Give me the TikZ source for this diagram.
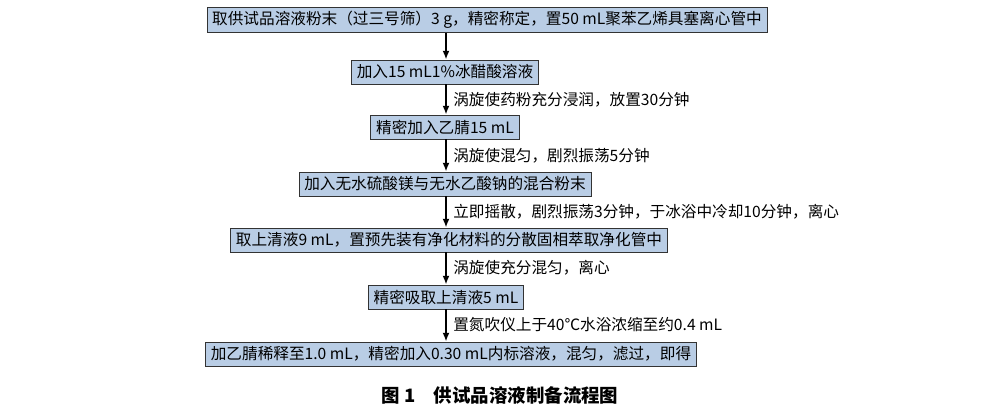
\documentclass[tikz,border=0pt]{standalone}
\usepackage{fontspec}
\setmainfont{Noto Sans CJK SC}
\usetikzlibrary{arrows.meta}
\definecolor{boxblue}{RGB}{185,205,229}

\begin{document}
\begin{tikzpicture}[x=0.02cm,y=-0.02cm,font=\fontsize{8.9}{10}\selectfont]
\tikzset{stepbox/.style = {draw=black!80, fill=boxblue, inner xsep=3pt, inner ysep=2pt, minimum height=0.48cm, line width=.5pt}}
\tikzset{edge/.style = {-{Latex[length=5pt,width=4pt]}, line width=1.2pt}}
\tikzset{note/.style = {anchor=west, inner sep=0pt}}

   \useasboundingbox (0,0) rectangle (1000,418);

   \node[stepbox] (s1) at (487,20) {取供试品溶液粉末（过三号筛）3 g，精密称定，置50 mL聚苯乙烯具塞离心管中};
   \node[stepbox] (s2) at (445,72) {加入15 mL1\%冰醋酸溶液};
   \node[stepbox] (s3) at (445,127) {精密加入乙腈15 mL};
   \node[stepbox] (s4) at (445,184) {加入无水硫酸镁与无水乙酸钠的混合粉末};
   \node[stepbox] (s5) at (449,240) {取上清液9 mL，置预先装有净化材料的分散固相萃取净化管中};
   \node[stepbox] (s6) at (446,297) {精密吸取上清液5 mL};
   \node[stepbox] (s7) at (451,354) {加乙腈稀释至1.0 mL，精密加入0.30 mL内标溶液，混匀，滤过，即得};

   \draw[edge] (s1.south -| 446,0) -- (s2.north -| 446,0);
   \draw[edge] (s2.south -| 446,0) -- (s3.north -| 446,0);
   \draw[edge] (s3.south -| 446,0) -- (s4.north -| 446,0);
   \draw[edge] (s4.south -| 446,0) -- (s5.north -| 446,0);
   \draw[edge] (s5.south -| 446,0) -- (s6.north -| 446,0);
   \draw[edge] (s6.south -| 446,0) -- (s7.north -| 446,0);

   \node[note] (n2) at (453,100) {涡旋使药粉充分浸润，放置30分钟};
   \node[note] (n3) at (453,156) {涡旋使混匀，剧烈振荡5分钟};
   \node[note] (n4) at (453,212) {立即摇散，剧烈振荡3分钟，于冰浴中冷却10分钟，离心};
   \node[note] (n5) at (453,268) {涡旋使充分混匀，离心};
   \node[note] (n6) at (453,325) {置氮吹仪上于40℃水浴浓缩至约0.4 mL};

   \node[font=\fontsize{10.5}{12}\selectfont\bfseries] (cap) at (500,395) {图 1\quad 供试品溶液制备流程图};
\end{tikzpicture}
\end{document}
